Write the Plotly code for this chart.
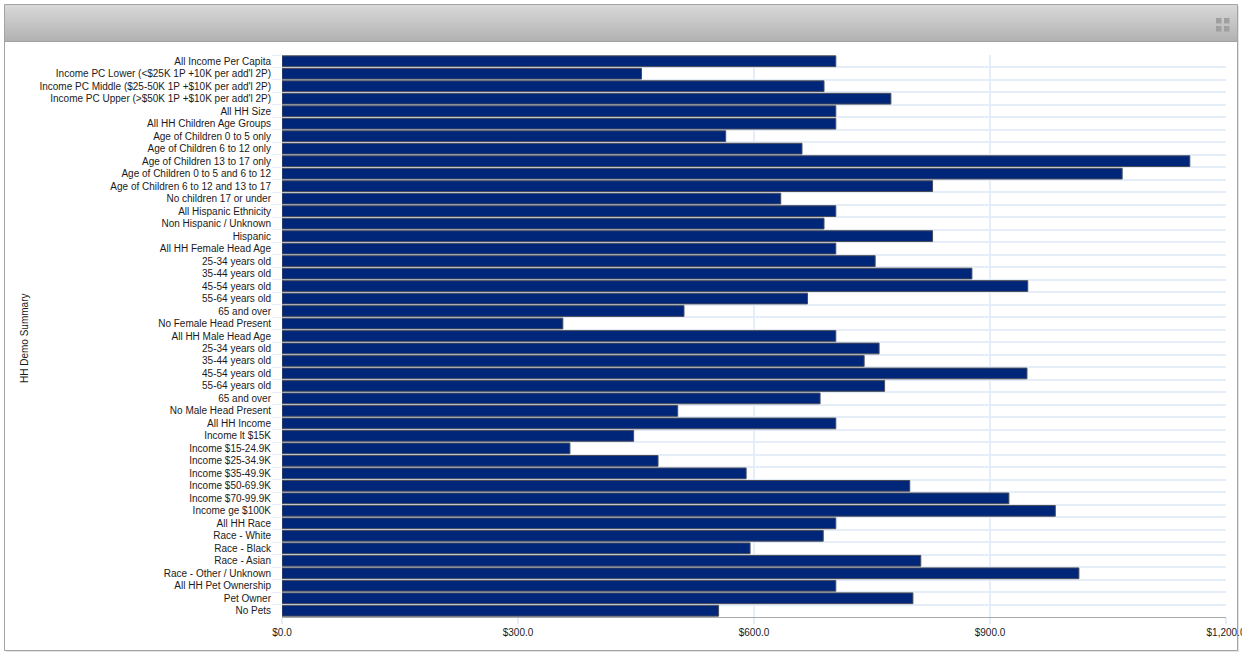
import plotly.graph_objects as go

categories = [
    "All Income Per Capita", "Income PC Lower (<$25K 1P +10K per add'l 2P)",
    "Income PC Middle ($25-50K 1P +$10K per add'l 2P)", "Income PC Upper (>$50K 1P +$10K per add'l 2P)",
    "All HH Size", "All HH Children Age Groups", "Age of Children 0 to 5 only", "Age of Children 6 to 12 only",
    "Age of Children 13 to 17 only", "Age of Children 0 to 5 and 6 to 12", "Age of Children 6 to 12 and 13 to 17",
    "No children 17 or under", "All Hispanic Ethnicity", "Non Hispanic / Unknown", "Hispanic",
    "All HH Female Head Age", "25-34 years old", "35-44 years old", "45-54 years old", "55-64 years old",
    "65 and over", "No Female Head Present", "All HH Male Head Age", "25-34 years old\u200b", "35-44 years old\u200b",
    "45-54 years old\u200b", "55-64 years old\u200b", "65 and over\u200b", "No Male Head Present", "All HH Income",
    "Income lt $15K", "Income $15-24.9K", "Income $25-34.9K", "Income $35-49.9K", "Income $50-69.9K",
    "Income $70-99.9K", "Income ge $100K", "All HH Race", "Race - White", "Race - Black", "Race - Asian",
    "Race - Other / Unknown", "All HH Pet Ownership", "Pet Owner", "No Pets",
]
values = [
    704, 457, 689, 774, 704, 704, 564, 661, 1154, 1068, 827, 634, 704, 689, 827,
    704, 754, 877, 948, 668, 511, 357, 704, 759, 740, 947, 766, 684, 503, 704,
    447, 366, 478, 590, 798, 924, 983, 704, 688, 595, 812, 1013, 704, 802, 555,
]
x_tickvals = [0, 300, 600, 900, 1200]
x_ticktext = ["$0.0", "$300.0", "$600.0", "$900.0", "$1,200.0"]

W, H = 1270, 655
L, R, T, B = 282, 1226, 55, 617
FONT = "Liberation Sans, Arial, sans-serif"
GRID = "#e4edf8"

fig = go.Figure(go.Bar(
    y=categories, x=values, orientation="h",
    marker=dict(color="#00267a", line=dict(color="#4a4d58", width=1)),
    width=0.86, hovertemplate="%{y}: $%{x:.1f}<extra></extra>",
))

def px(x): return (x - L) / (R - L)
def py(y): return (B - y) / (B - T)

shapes = []
def rect(x0, y0, x1, y1, fill, line=None):
    shapes.append(dict(type="rect", xref="paper", yref="paper", x0=px(x0), x1=px(x1), y0=py(y0), y1=py(y1),
                       fillcolor=fill, line=dict(color=line or fill, width=1 if line else 0), layer="below"))

# card with soft shadow
rect(6, 6, 1239, 652, "#e4e4e4")
rect(4.5, 4.5, 1237.5, 650.5, "#ffffff", "#a3a3a3")
# header gradient
n = 36
for i in range(n):
    v = round(216 - (216 - 178) * i / (n - 1))
    rect(5, 5 + i, 1237, 6 + i, f"rgb({v},{v},{v})")
rect(5, 41, 1237, 42, "#a0a0a0")
# expand icon
for x0, y0 in [(1216, 18), (1224, 18), (1216, 26), (1224, 26)]:
    rect(x0, y0, x0 + 5.5, y0 + 5.5, "#a0a0a0")

fig.update_layout(
    width=W, height=H, paper_bgcolor="white", plot_bgcolor="white",
    margin=dict(l=L, r=W - R, t=T, b=H - B, autoexpand=False),
    showlegend=False, shapes=shapes, bargap=0.1,
    font=dict(family=FONT, size=10, color="#1a1a1a"),
    xaxis=dict(range=[0, 1200], tickvals=x_tickvals, ticktext=x_ticktext, showgrid=True, gridcolor=GRID,
               gridwidth=2, ticks="outside", ticklen=6, tickcolor=GRID, tickwidth=2,
               showline=True, linecolor="#a8a8a8", linewidth=1, zeroline=False,
               tickfont=dict(family=FONT, size=10), automargin=False),
    yaxis=dict(type="category", categoryorder="array", categoryarray=categories, autorange="reversed",
               tickson="boundaries", showgrid=True, gridcolor=GRID, gridwidth=2,
               ticks="outside", ticklen=9, tickcolor=GRID, tickwidth=1, ticklabelstandoff=10,
               showline=False, zeroline=False, tickfont=dict(family=FONT, size=10), automargin=False),
    annotations=[dict(text="HH Demo Summary", xref="paper", yref="paper", x=px(25), y=py(339),
                      textangle=-90, showarrow=False, xanchor="center", yanchor="middle",
                      font=dict(family=FONT, size=10, color="#1a1a1a"))],
)

fig.write_html("out.html", config={"displayModeBar": False},
               post_script="document.body.style.margin='0';document.documentElement.style.overflow='hidden';document.body.style.overflow='hidden';")
